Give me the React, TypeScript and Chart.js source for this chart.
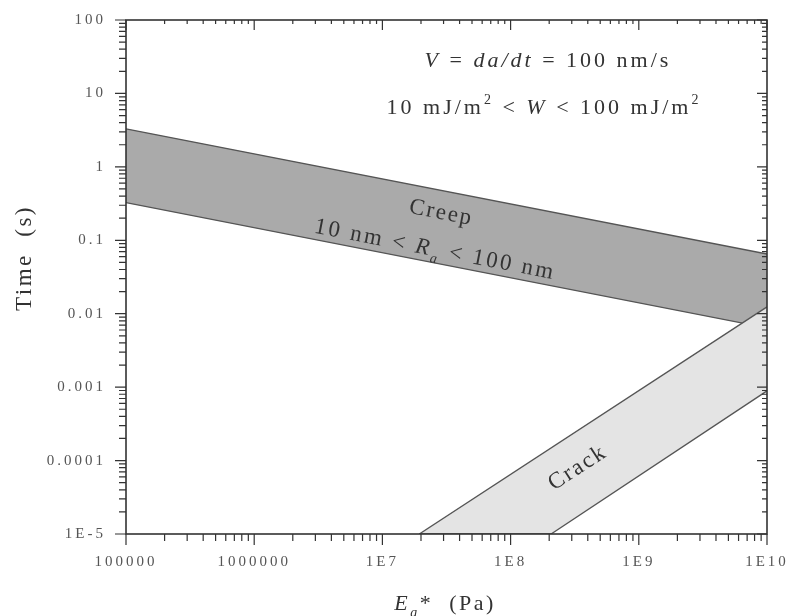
import { useEffect, useRef } from 'react';
import { Chart, registerables } from 'chart.js';

Chart.register(...registerables);

// ---- data ----
const xTickExponents = [5, 6, 7, 8, 9, 10];
const xTickLabels = ['100000', '1000000', '1E7', '1E8', '1E9', '1E10'];
const yTickExponents = [-5, -4, -3, -2, -1, 0, 1, 2];
const yTickLabels = ['1E-5', '0.0001', '0.001', '0.01', '0.1', '1', '10', '100'];

const creepModulus = [1e5, 1e10];
const creepUpperTime = [3.3, 0.065];
const creepLowerTime = [0.325, 0.0064];

const crackUpperModulus = [1.94e7, 1e10];
const crackUpperTime = [1e-5, 0.0124];
const crackLowerModulus = [1.94e7, 2.07e8, 1e10];
const crackLowerTime = [1e-5, 1e-5, 0.00089];

// ---- styling ----
const FONT = '"Liberation Serif", "DejaVu Serif", serif';
const LINE = '#555555';
const TEXT = '#333333';
const CREEP_FILL = '#aaaaaa';
const CRACK_FILL = '#e4e4e4';

const toPoints = (xs: number[], ys: number[]) => xs.map((x, i) => ({ x, y: ys[i] }));

const isPow10 = (v: number) => {
  const l = Math.log10(v);
  return Math.abs(l - Math.round(l)) < 1e-6;
};

type Run = { text: string; italic?: boolean; sub?: boolean; sup?: boolean };

function drawRuns(ctx: CanvasRenderingContext2D, runs: Run[], cx: number, cy: number, angleDeg: number, size: number, spacing: number) {
  ctx.save();
  ctx.translate(cx, cy);
  ctx.rotate((angleDeg * Math.PI) / 180);
  (ctx as any).letterSpacing = spacing + 'px';
  const fontFor = (r: Run) => `${r.italic ? 'italic ' : ''}${r.sub || r.sup ? Math.round(size * 0.62) : size}px ${FONT}`;
  const widths = runs.map((r) => {
    ctx.font = fontFor(r);
    return ctx.measureText(r.text).width;
  });
  const total = widths.reduce((a, b) => a + b, 0);
  let x = -total / 2;
  ctx.textAlign = 'left';
  ctx.textBaseline = 'alphabetic';
  ctx.fillStyle = TEXT;
  runs.forEach((r, i) => {
    ctx.font = fontFor(r);
    const dy = r.sub ? size * 0.3 : r.sup ? -size * 0.45 : 0;
    ctx.fillText(r.text, x, dy);
    x += widths[i];
  });
  ctx.restore();
}

const spacingPlugin = {
  id: 'spacing',
  beforeDraw(chart: any) {
    chart.ctx.letterSpacing = '3px';
  },
};

const framePlugin = {
  id: 'frame',
  afterDatasetsDraw(chart: any) {
    const { ctx, chartArea: a, scales } = chart;
    const xs = scales.x;
    const ys = scales.y;
    ctx.save();
    ctx.strokeStyle = '#333333';
    ctx.lineWidth = 1.6;
    ctx.strokeRect(a.left, a.top, a.right - a.left, a.bottom - a.top);
    ctx.lineWidth = 1.2;
    ctx.beginPath();
    for (let e = xTickExponents[0]; e <= xTickExponents[xTickExponents.length - 1]; e++) {
      for (let m = 1; m <= 9; m++) {
        const v = m * Math.pow(10, e);
        if (v > xs.max * 1.0001) break;
        const px = xs.getPixelForValue(v);
        const major = m === 1;
        ctx.moveTo(px, a.bottom);
        ctx.lineTo(px, a.bottom + (major ? 11 : 7));
        ctx.moveTo(px, a.top);
        ctx.lineTo(px, a.top + (major ? 10 : 4));
      }
    }
    for (let e = yTickExponents[0]; e <= yTickExponents[yTickExponents.length - 1]; e++) {
      for (let m = 1; m <= 9; m++) {
        const v = m * Math.pow(10, e);
        if (v > ys.max * 1.0001) break;
        const py = ys.getPixelForValue(v);
        const major = m === 1;
        ctx.moveTo(a.left, py);
        ctx.lineTo(a.left - (major ? 11 : 7), py);
        ctx.moveTo(a.right, py);
        ctx.lineTo(a.right - (major ? 10 : 5), py);
      }
    }
    ctx.stroke();
    ctx.restore();
  },
  afterDraw(chart: any) {
    const ctx = chart.ctx as CanvasRenderingContext2D;
    drawRuns(ctx, [{ text: 'V', italic: true }, { text: ' = ' }, { text: 'da/dt', italic: true }, { text: ' = 100 nm/s' }], 548, 67, 0, 22, 3);
    drawRuns(
      ctx,
      [{ text: '10 mJ/m' }, { text: '2', sup: true }, { text: ' < ' }, { text: 'W', italic: true }, { text: ' < 100 mJ/m' }, { text: '2', sup: true }],
      544,
      114,
      0,
      22,
      3
    );
    drawRuns(ctx, [{ text: 'Creep' }], 440, 219, 11, 23, 2);
    drawRuns(ctx, [{ text: '10 nm < ' }, { text: 'R', italic: true }, { text: 'a', italic: true, sub: true }, { text: ' < 100 nm' }], 434, 256, 11, 23, 2.5);
    drawRuns(ctx, [{ text: 'Crack' }], 581, 473, -33, 23, 2);
    drawRuns(ctx, [{ text: 'Time  (s)' }], 31, 258, -90, 23, 2.5);
    drawRuns(ctx, [{ text: 'E', italic: true }, { text: 'a', italic: true, sub: true }, { text: '*  (Pa)' }], 445, 610, 0, 22, 2.5);
  },
};

const zeroPadding = (s: any) => {
  s.paddingLeft = 0;
  s.paddingRight = 0;
  s.paddingTop = 0;
  s.paddingBottom = 0;
};

export default function App() {
  const ref = useRef<HTMLCanvasElement>(null);
  useEffect(() => {
    const canvas = ref.current;
    if (!canvas) return;
    const chart = new Chart(canvas, {
      type: 'line',
      data: {
        datasets: [
          {
            label: 'Crack lower',
            data: toPoints(crackLowerModulus, crackLowerTime),
            borderColor: LINE,
            borderWidth: 1.3,
            fill: false,
          },
          {
            label: 'Crack upper',
            data: toPoints(crackUpperModulus, crackUpperTime),
            borderColor: LINE,
            borderWidth: 1.3,
            backgroundColor: CRACK_FILL,
            fill: '-1',
          },
          {
            label: 'Creep lower',
            data: toPoints(creepModulus, creepLowerTime),
            borderColor: LINE,
            borderWidth: 1.3,
            fill: false,
          },
          {
            label: 'Creep upper',
            data: toPoints(creepModulus, creepUpperTime),
            borderColor: LINE,
            borderWidth: 1.3,
            backgroundColor: CREEP_FILL,
            fill: '-1',
          },
        ],
      },
      options: {
        animation: false,
        responsive: false,
        maintainAspectRatio: false,
        layout: { padding: { top: 20, right: 23, left: 0, bottom: 0 } },
        elements: { point: { radius: 0 }, line: { tension: 0 } },
        plugins: { legend: { display: false }, tooltip: { enabled: false }, filler: { propagate: false } },
        scales: {
          x: {
            type: 'logarithmic',
            min: 1e5,
            max: 1e10,
            grid: { display: false, drawTicks: false },
            border: { display: false },
            ticks: {
              autoSkip: false,
              maxRotation: 0,
              minRotation: 0,
              padding: 19,
              color: '#555555',
              font: { family: FONT, size: 15 },
              callback: (v: any) => {
                const n = Number(v);
                if (!isPow10(n)) return '';
                const i = xTickExponents.indexOf(Math.round(Math.log10(n)));
                return i >= 0 ? xTickLabels[i] : '';
              },
            },
            afterFit: (s: any) => {
              s.height = 82;
              zeroPadding(s);
            },
          },
          y: {
            type: 'logarithmic',
            min: 1e-5,
            max: 100,
            grid: { display: false, drawTicks: false },
            border: { display: false },
            ticks: {
              autoSkip: false,
              padding: 20,
              color: '#555555',
              font: { family: FONT, size: 15 },
              callback: (v: any) => {
                const n = Number(v);
                if (!isPow10(n)) return '';
                const i = yTickExponents.indexOf(Math.round(Math.log10(n)));
                return i >= 0 ? yTickLabels[i] : '';
              },
            },
            afterFit: (s: any) => {
              s.width = 126;
              zeroPadding(s);
            },
          },
        },
      },
      plugins: [spacingPlugin, framePlugin],
    } as any);
    return () => chart.destroy();
  }, []);
  return (
    <div style={{ position: 'fixed', left: 0, top: 0, width: 790, height: 616, background: '#ffffff' }}>
      <canvas ref={ref} width={790} height={616} style={{ display: 'block', width: 790, height: 616 }} />
    </div>
  );
}
